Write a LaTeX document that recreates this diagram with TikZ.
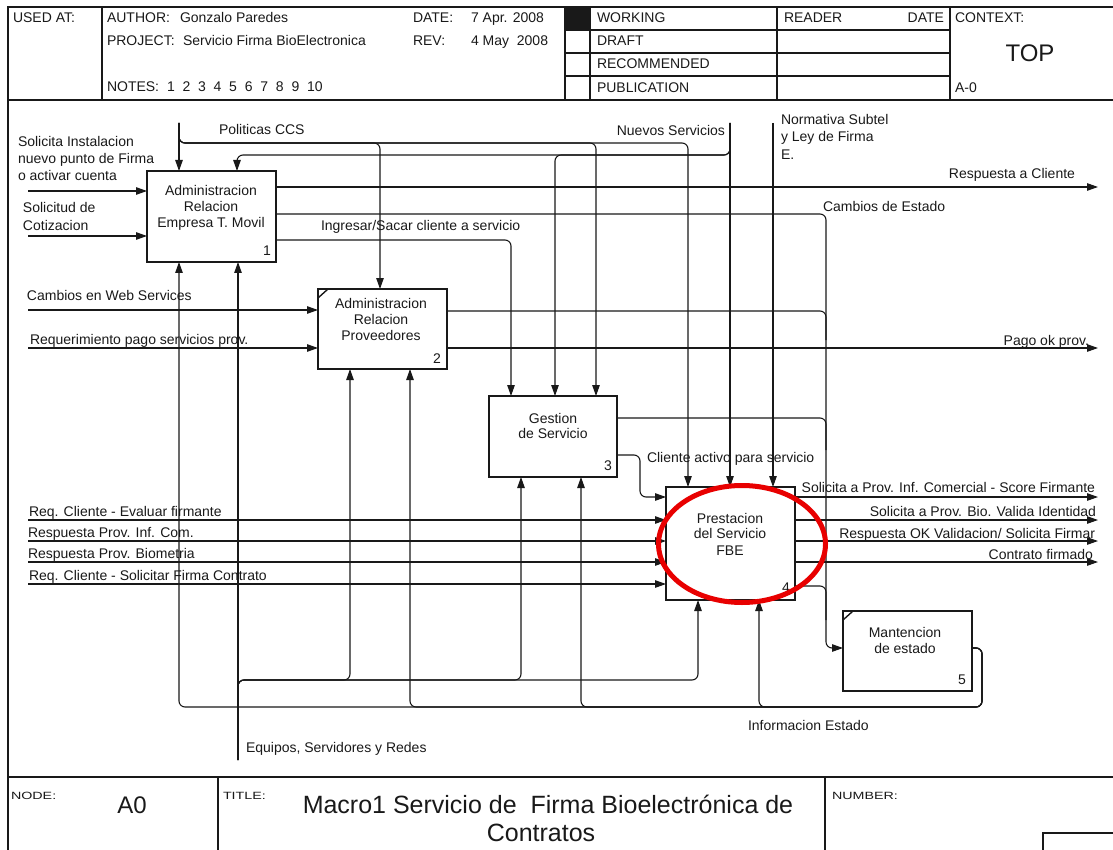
\documentclass[tikz,border=0pt]{standalone}
\usepackage{fontspec}
\setmainfont{Liberation Sans}
\usetikzlibrary{arrows.meta,shapes.geometric}
\definecolor{ink}{RGB}{25,25,25}
\definecolor{mark}{RGB}{232,0,0}
\begin{document}
\begin{tikzpicture}[x=1pt,y=-1pt,
  every node/.style={inner sep=0pt,outer sep=0pt,text=ink,font=\fontsize{14}{17}\selectfont},
  tl/.style={anchor=base west},
  tr/.style={anchor=base east},
  tc/.style={anchor=base},
  rule/.style={line width=1.4pt,draw=ink},
  proc/.style={draw=ink,line width=2.5pt,minimum width=129pt},
  notch/.style={draw=ink,line width=1.4pt},
  flow/.style={draw=ink,line width=1.1pt,rounded corners=6pt},
  arr/.style={flow,-{Triangle[length=11pt,width=7.5pt]}},
  small/.style={font=\fontsize{10.5}{12}\selectfont},
]
\useasboundingbox (0,0) rectangle (1113,850);

% ---------- form frame ----------
\draw[rule] (8,850) -- (8,7) -- (1113,7);
\draw[rule] (8,100) -- (1113,100);
\foreach \x in {102,565,590,777,950} \draw[rule] (\x,7) -- (\x,100);
\foreach \y in {30,53,76} \draw[rule] (565,\y) -- (950,\y);
\fill[ink] (565,7) rectangle (590,30);
\draw[rule] (8,777) -- (1113,777);
\draw[rule] (218,777) -- (218,850);
\draw[rule] (825,777) -- (825,850);
\draw[rule] (1043,850) |- (1113,833);

% ---------- header texts ----------
\node[tl] (usedat) at (13,23) {USED AT:};
\node[tl] (author) at (107,23) {AUTHOR:};
\node[tl] (authorv) at (180,23) {Gonzalo Paredes};
\node[tl] (project) at (107,46) {PROJECT:};
\node[tl] (projectv) at (183,46) {Servicio Firma BioElectronica};
\node[tl] (notes) at (107,92) {NOTES:};
\node[tl] (notesv) at (167,92) {1\ \ 2\ \ 3\ \ 4\ \ 5\ \ 6\ \ 7\ \ 8\ \ 9\ \ 10};
\node[tl] (date) at (413,23) {DATE:};
\node[tl] (datev) at (471,23) {7 Apr. 2008};
\node[tl] (rev) at (413,46) {REV:};
\node[tl] (revv) at (471,46) {4 May\ \ 2008};
\node[tl] (working) at (597,23) {WORKING};
\node[tl] (draft) at (597,46) {DRAFT};
\node[tl] (recom) at (597,69) {RECOMMENDED};
\node[tl] (publi) at (597,93) {PUBLICATION};
\node[tl] (reader) at (784,23) {READER};
\node[tr] (rdate) at (944,23) {DATE};
\node[tl] (context) at (955,23) {CONTEXT:};
\node[tc,font=\fontsize{24}{28}\selectfont] (top) at (1030,62) {TOP};
\node[tl] (azero) at (955,93) {A-0};

% ---------- footer texts ----------
\node[tl,small] (nodelbl) at (11,799) {\scalebox{1.36}[1]{NODE:}};
\node[tc,font=\fontsize{24}{28}\selectfont] (nodev) at (132,813) {A0};
\node[tl,small] (titlelbl) at (223,799) {\scalebox{1.36}[1]{TITLE:}};
\node[tc,font=\fontsize{25}{30}\selectfont] (title1) at (548,813) {Macro1 Servicio de\ \ Firma Bioelectrónica de};
\node[tc,font=\fontsize{25}{30}\selectfont] (title2) at (541,841) {Contratos};
\node[tl,small] (numlbl) at (832,799) {\scalebox{1.36}[1]{NUMBER:}};

% ---------- activity boxes ----------
\node[proc,minimum height=91pt] (b1) at (211.5,216.5) {};
\node[proc,minimum height=80pt] (b2) at (382.5,329) {};
\node[proc,minimum width=128pt,minimum height=81pt] (b3) at (553,436.5) {};
\node[proc,minimum height=113pt] (b4) at (730.5,543.5) {};
\node[proc,minimum height=80pt] (b5) at (907.5,651) {};
\draw[notch] ([yshift=-9pt]b2.north west) -- ([xshift=10pt]b2.north west);
\draw[notch] ([yshift=-9pt]b5.north west) -- ([xshift=10pt]b5.north west);

\node[tc] (b1a) at (211,196) {Administracion};
\node[tc] (b1b) at (211,212) {Relacion};
\node[tc] (b1c) at (211,228) {Empresa T. Movil};
\node[tr] (n1) at ([xshift=-5pt,yshift=6pt]b1.south east) {1};
\node[tc] (b2a) at (381,308) {Administracion};
\node[tc] (b2b) at (381,324) {Relacion};
\node[tc] (b2c) at (381,340) {Proveedores};
\node[tr] (n2) at ([xshift=-6pt,yshift=6pt]b2.south east) {2};
\node[tc] (b3a) at (553,423) {Gestion};
\node[tc] (b3b) at (553,438) {de Servicio};
\node[tr] (n3) at ([xshift=-5pt,yshift=7pt]b3.south east) {3};
\node[tc] (b4a) at (730,523) {Prestacion};
\node[tc] (b4b) at (730,538) {del Servicio};
\node[tc] (b4c) at (730,555) {FBE};
\node[tr] (n4) at ([xshift=-5pt,yshift=8pt]b4.south east) {4};
\node[tc] (b5a) at (905,637) {Mantencion};
\node[tc] (b5b) at (905,653) {de estado};
\node[tr] (n5) at ([xshift=-6pt,yshift=7pt]b5.south east) {5};

% ---------- free ends ----------
\coordinate (i1) at (28,191);
\coordinate (i2) at (28,236);
\coordinate (i3) at (28,310);
\coordinate (i4) at (28,348);
\coordinate (i5) at (28,520);
\coordinate (i6) at (28,541);
\coordinate (i7) at (28,562);
\coordinate (i8) at (28,584);
\coordinate (pol) at (179,123);
\coordinate (nue) at (730,123);
\coordinate (nor) at (773,123);
\coordinate (equ) at (238,760);
\coordinate (o1) at (1098,187);
\coordinate (o2) at (1098,348);
\coordinate (o3) at (1098,497);
\coordinate (o4) at (1098,520);
\coordinate (o5) at (1098,541);
\coordinate (o6) at (1098,562);

% ---------- inputs ----------
\draw[arr] (i1) -- (i1 -| b1.west);
\draw[arr] (i2) -- (i2 -| b1.west);
\draw[arr] (i3) -- (i3 -| b2.west);
\draw[arr] (i4) -- (i4 -| b2.west);
\draw[arr] (i5) -- (i5 -| b4.west);
\draw[arr] (i6) -- (i6 -| b4.west);
\draw[arr] (i7) -- (i7 -| b4.west);
\draw[arr] (i8) -- (i8 -| b4.west);

% ---------- controls ----------
\draw[arr] (pol) -- (pol |- b1.north);
\draw[arr] (pol) |- (380,143) -- (b2.north -| 380,0);
\draw[arr] (pol) |- (596,143) -- (b3.north -| 596,0);
\draw[arr] (pol) |- (688,143) -- (b4.north -| 688,0);
\draw[arr] (nue) -- (nue |- b4.north);
\draw[arr] (nue) |- (555,155) -- (b3.north -| 555,0);
\draw[arr] (nue) |- (237,155) -- (b1.north -| 237,0);
\draw[arr] (nor) -- (nor |- b4.north);

% ---------- outputs ----------
\draw[arr] (b1.east |- o1) -- (o1);
\draw[arr] (b1.east |- 0,214) -| (826,648) -- (b5.west |- 0,648);
\draw[arr] (b1.east |- 0,240) -| (b3.north -| 511,0);
\draw[flow] (b2.east |- 0,311) -| (826,340);
\draw[arr] (b2.east |- o2) -- (o2);
\draw[flow] (b3.east |- 0,418) -| (826,450);
\draw[arr] (b3.east |- 0,455) -| (640,497) -- (b4.west |- 0,497);
\draw[arr] (b4.east |- o3) -- (o3);
\draw[arr] (b4.east |- o4) -- (o4);
\draw[arr] (b4.east |- o5) -- (o5);
\draw[arr] (b4.east |- o6) -- (o6);
\draw[flow] (b4.east |- 0,586) -| (826,620);

% ---------- feedback and mechanisms ----------
\draw[arr] (b5.east |- 0,648) -| (982,707) -| (b1.south -| pol);
\draw[arr] (b5.east |- 0,648) -| (982,707) -| (b2.south -| 410,0);
\draw[arr] (b5.east |- 0,648) -| (982,707) -| (b3.south -| 581,0);
\draw[arr] (b5.east |- 0,648) -| (982,707) -| (b4.south -| 759,0);
\draw[arr] (equ) -- (equ |- b1.south);
\draw[arr] (equ) |- (350,680) -- (b2.south -| 350,0);
\draw[arr] (equ) |- (521,680) -- (b3.south -| 521,0);
\draw[arr] (equ) |- (698,680) -- (b4.south -| 698,0);

% ---------- arrow labels ----------
\node[tl] (t1a) at (18,147) {Solicita Instalacion};
\node[tl] (t1b) at (18,164) {nuevo punto de Firma};
\node[tl] (t1c) at (18,181) {o activar cuenta};
\node[tl] (t2a) at (23,213) {Solicitud de};
\node[tl] (t2b) at (23,231) {Cotizacion};
\node[tl] (tpol) at (219,135) {Politicas CCS};
\node[tr] (tnue) at (725,136) {Nuevos Servicios};
\node[tl] (tnora) at (781,125) {Normativa Subtel};
\node[tl] (tnorb) at (781,142) {y Ley de Firma};
\node[tl] (tnorc) at (781,160) {E.};
\node[tr] (tresp) at (1075,179) {Respuesta a Cliente};
\node[tl] (tcamb) at (823,212) {Cambios de Estado};
\node[tl] (tingr) at (321,231) {Ingresar/Sacar cliente a servicio};
\node[tl] (tweb) at (27,300) {Cambios en Web Services};
\node[tl] (treq) at (30,344) {Requerimiento pago servicios prov.};
\node[tr] (tpago) at (1089,345) {Pago ok prov.};
\node[tl] (tcli) at (647,462) {Cliente activo para servicio};
\node[tl] (t5) at (29,516) {Req. Cliente - Evaluar firmante};
\node[tl] (t6) at (28,537) {Respuesta Prov. Inf. Com.};
\node[tl] (t7) at (28,558) {Respuesta Prov. Biometria};
\node[tl] (t8) at (29,580) {Req. Cliente - Solicitar Firma Contrato};
\node[tr] (to3) at (1095,492) {Solicita a Prov. Inf. Comercial - Score Firmante};
\node[tr] (to4) at (1096,516) {Solicita a Prov. Bio. Valida Identidad};
\node[tr] (to5) at (1095,538) {Respuesta OK Validacion/ Solicita Firmar};
\node[tr] (to6) at (1093,559) {Contrato firmado};
\node[tl] (tinfo) at (748,730) {Informacion Estado};
\node[tl] (tequ) at (246,752) {Equipos, Servidores y Redes};

% ---------- highlight ----------
\node[ellipse,draw=mark,line width=5pt,minimum width=167pt,minimum height=117pt] (hl) at (742,544) {};
\end{tikzpicture}
\end{document}
